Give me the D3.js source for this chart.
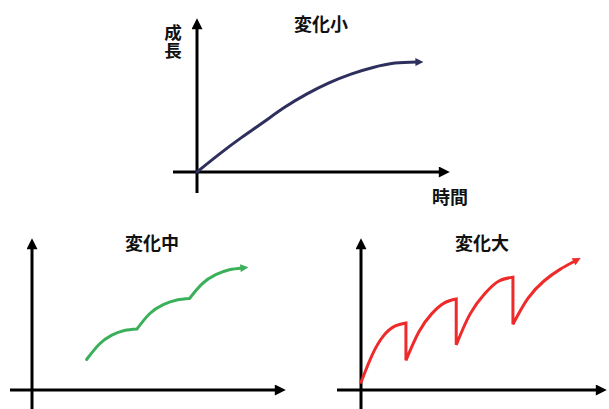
<!DOCTYPE html>
<html>
<head>
<meta charset="utf-8">
<script src="https://cdn.jsdelivr.net/npm/d3@7/dist/d3.min.js"></script>
<style>
  html, body { margin: 0; padding: 0; background: #fff; }
  svg { display: block; }
  text { font-family: "Noto Sans CJK JP", "Noto Sans", sans-serif; font-weight: bold; fill: #111; }
</style>
</head>
<body>
<svg id="chart" width="609" height="409"></svg>
<script>
// Panel titles and axis labels
const titles = ["変化小", "変化中", "変化大"];
const yLabel = "成長";
const xLabel = "時間";

// Small change: one smooth rising curve
const smallTime   = [0, 1, 2, 3, 4, 5, 6, 7, 8, 9, 10];
const smallGrowth = [0, 1.6, 3.1, 4.5, 5.9, 7.1, 8.1, 8.9, 9.5, 9.9, 10];

// Medium change: three arcs joined at cusps
const midTime = [
  [2.6, 3.2, 3.8, 4.4, 5.0],
  [5.0, 5.6, 6.25, 6.9, 7.5],
  [7.5, 8.1, 8.75, 9.4, 10]
];
const midGrowth = [
  [2.5, 3.75, 4.5, 4.88, 5.0],
  [5.0, 6.25, 7.0, 7.38, 7.5],
  [7.5, 8.7, 9.45, 9.85, 10]
];

// Large change: four arcs separated by sharp drops
const bigTime = [
  [0, 0.53, 1.05, 1.58, 2.1],
  [2.1, 2.7, 3.3, 3.9, 4.45],
  [4.45, 5.1, 5.8, 6.45, 7.1],
  [7.1, 7.8, 8.55, 9.3, 10]
];
const bigGrowth = [
  [0.6, 2.75, 4.2, 4.95, 5.2],
  [2.3, 4.5, 5.9, 6.75, 7.05],
  [3.5, 5.9, 7.5, 8.45, 8.75],
  [5.1, 7.1, 8.45, 9.35, 10]
];

const colors = { small: "#2e2f5c", mid: "#3bb05a", big: "#ee2a2a" };

const svg = d3.select("#chart");
const defs = svg.append("defs");

// Arrowheads: one for the axes, one per curve colour
function addMarker(id, color, w, h) {
  defs.append("marker")
    .attr("id", id)
    .attr("viewBox", "0 0 10 10")
    .attr("refX", 2).attr("refY", 5)
    .attr("markerUnits", "userSpaceOnUse")
    .attr("markerWidth", w).attr("markerHeight", h)
    .attr("orient", "auto")
    .append("path")
    .attr("d", "M0,0 L10,5 L0,10 Z")
    .attr("fill", color);
}
addMarker("axisArrow", "#000", 12, 11);
addMarker("arrow-small", colors.small, 9, 8);
addMarker("arrow-mid", colors.mid, 9, 8);
addMarker("arrow-big", colors.big, 9, 8);

// Panel layout (pixel frame of each small chart)
const panels = [
  { key: "small", title: titles[0], x0: 197, x1: 417, y0: 172, y1: 62,
    axisLeft: 173, axisRight: 441, axisBottom: 193, axisTop: 27, titleX: 321, titleY: 31 },
  { key: "mid", title: titles[1], x0: 32, x1: 242, y0: 390, y1: 268,
    axisLeft: 10, axisRight: 277, axisBottom: 409, axisTop: 247, titleX: 152, titleY: 250 },
  { key: "big", title: titles[2], x0: 361, x1: 575, y0: 390, y1: 261,
    axisLeft: 337, axisRight: 598, axisBottom: 409, axisTop: 247, titleX: 482, titleY: 250 }
];

const seriesTime   = { small: [smallTime], mid: midTime, big: bigTime };
const seriesGrowth = { small: [smallGrowth], mid: midGrowth, big: bigGrowth };

panels.forEach(p => {
  const x = d3.scaleLinear().domain([0, 10]).range([p.x0, p.x1]);
  const y = d3.scaleLinear().domain([0, 10]).range([p.y0, p.y1]);
  const g = svg.append("g");

  // Axes with arrowheads
  g.append("line")
    .attr("x1", p.axisLeft).attr("x2", p.axisRight)
    .attr("y1", y(0)).attr("y2", y(0))
    .attr("stroke", "#000").attr("stroke-width", 3)
    .attr("marker-end", "url(#axisArrow)");
  g.append("line")
    .attr("x1", x(0)).attr("x2", x(0))
    .attr("y1", p.axisBottom).attr("y2", p.axisTop)
    .attr("stroke", "#000").attr("stroke-width", 3)
    .attr("marker-end", "url(#axisArrow)");

  // Curve: each arc is smoothed, arcs are joined by straight segments
  const line = d3.line().x(d => x(d[0])).y(d => y(d[1])).curve(d3.curveNatural);
  const times = seriesTime[p.key], growth = seriesGrowth[p.key];
  let d = "";
  times.forEach((ts, i) => {
    const pts = ts.map((t, j) => [t, growth[i][j]]);
    const seg = line(pts);
    d += i === 0 ? seg : "L" + seg.slice(1);
  });
  g.append("path")
    .attr("d", d)
    .attr("fill", "none")
    .attr("stroke", colors[p.key])
    .attr("stroke-width", 3)
    .attr("stroke-linejoin", "miter")
    .attr("stroke-linecap", "round")
    .attr("marker-end", `url(#arrow-${p.key})`);

  // Title
  g.append("text")
    .attr("x", p.titleX).attr("y", p.titleY)
    .attr("text-anchor", "middle")
    .attr("font-size", 18)
    .text(p.title);
});

// Axis labels on the top panel; the growth label runs vertically
svg.append("text")
  .attr("x", 173).attr("y", 24)
  .style("writing-mode", "vertical-rl")
  .style("text-orientation", "upright")
  .attr("font-size", 17.5)
  .text(yLabel);
svg.append("text")
  .attr("x", 432).attr("y", 204)
  .attr("font-size", 18)
  .text(xLabel);
</script>
</body>
</html>
